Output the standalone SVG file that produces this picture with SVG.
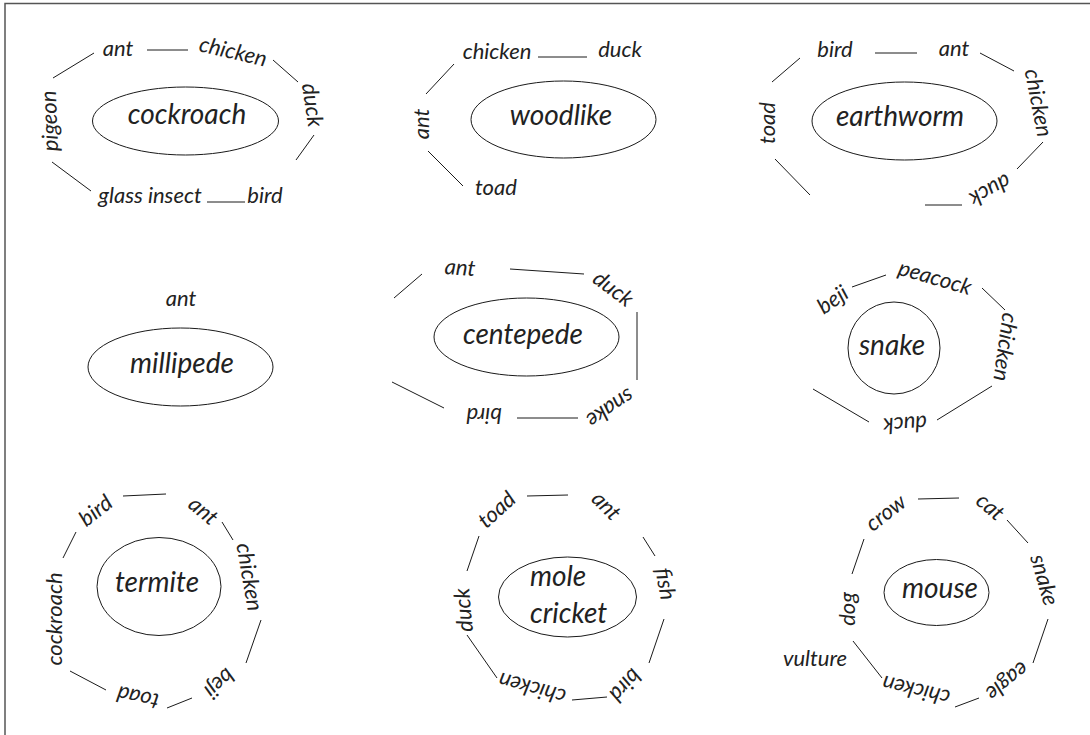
<svg xmlns="http://www.w3.org/2000/svg" width="1090" height="735" viewBox="0 0 1090 735">
<style>
text{font-family:"Lato","Open Sans","Liberation Sans",sans-serif;font-style:italic;font-weight:400;fill:#222;text-anchor:middle}
.l{font-size:22px}
.c{font-size:28px}
.e{fill:none;stroke:#1a1a1a;stroke-width:1}
#connectors line{stroke:#1a1a1a;stroke-width:1}
</style>
<rect width="1090" height="735" fill="#fff"/>
<path d="M5,735 V3.5 H1090" fill="none" stroke="#555" stroke-width="1.5"/>
<g id="connectors">
<line x1="147" y1="50" x2="188" y2="50"/>
<line x1="273" y1="60" x2="298" y2="82"/>
<line x1="314" y1="135" x2="296" y2="160"/>
<line x1="207" y1="202" x2="245" y2="202"/>
<line x1="52" y1="162" x2="91" y2="191"/>
<line x1="53" y1="78" x2="94" y2="53"/>
<line x1="538" y1="57" x2="587" y2="57"/>
<line x1="454" y1="64" x2="426" y2="94"/>
<line x1="428" y1="151" x2="463" y2="186"/>
<line x1="875" y1="53" x2="917" y2="53"/>
<line x1="980" y1="53" x2="1014" y2="71"/>
<line x1="1043" y1="142" x2="1017" y2="169"/>
<line x1="925" y1="205" x2="962" y2="205"/>
<line x1="775" y1="159" x2="810" y2="195"/>
<line x1="772" y1="82" x2="800" y2="58"/>
<line x1="510" y1="269" x2="584" y2="274"/>
<line x1="637" y1="312" x2="637" y2="380"/>
<line x1="517" y1="418" x2="578" y2="418"/>
<line x1="392" y1="382" x2="444" y2="408"/>
<line x1="394" y1="298" x2="422" y2="274"/>
<line x1="852" y1="287" x2="886" y2="275"/>
<line x1="982" y1="288" x2="1005" y2="310"/>
<line x1="992" y1="386" x2="937" y2="420"/>
<line x1="869" y1="422" x2="813" y2="389"/>
<line x1="123" y1="496" x2="166" y2="494"/>
<line x1="222" y1="522" x2="233" y2="540"/>
<line x1="261" y1="620" x2="246" y2="663"/>
<line x1="192" y1="698" x2="167" y2="708"/>
<line x1="106" y1="690" x2="70" y2="671"/>
<line x1="63" y1="558" x2="76" y2="532"/>
<line x1="527" y1="496" x2="568" y2="495"/>
<line x1="643" y1="537" x2="655" y2="556"/>
<line x1="664" y1="619" x2="649" y2="663"/>
<line x1="607" y1="697" x2="572" y2="700"/>
<line x1="497" y1="678" x2="467" y2="635"/>
<line x1="467" y1="571" x2="479" y2="536"/>
<line x1="918" y1="499" x2="959" y2="498"/>
<line x1="1007" y1="520" x2="1028" y2="543"/>
<line x1="1048" y1="619" x2="1033" y2="663"/>
<line x1="979" y1="698" x2="955" y2="707"/>
<line x1="882" y1="678" x2="853" y2="641"/>
<line x1="852" y1="574" x2="864" y2="539"/>
</g>

<g id="cockroach"><ellipse class="e" cx="185.5" cy="121" rx="93" ry="34"/><text class="c" x="187" y="124">cockroach</text></g>
<g id="p1-ant"><text class="l" x="118" y="56">ant</text></g>
<g id="p1-chicken"><text class="l" transform="translate(233,52) rotate(13)" y="7">chicken</text></g>
<g id="p1-duck"><text class="l" transform="translate(312,105) rotate(81)" y="7">duck</text></g>
<g id="p1-bird"><text class="l" x="265" y="203">bird</text></g>
<g id="p1-glass"><text class="l" x="150" y="203">glass insect</text></g>
<g id="p1-pigeon"><text class="l" transform="translate(50,121) rotate(-92)" y="7">pigeon</text></g>

<g id="woodlike"><ellipse class="e" cx="563.5" cy="119.5" rx="92.5" ry="38.5"/><text class="c" x="561" y="125">woodlike</text></g>
<g id="p2-chicken"><text class="l" x="497" y="59">chicken</text></g>
<g id="p2-duck"><text class="l" x="620" y="57">duck</text></g>
<g id="p2-ant"><text class="l" transform="translate(422,124) rotate(-90)" y="7">ant</text></g>
<g id="p2-toad"><text class="l" x="496" y="195">toad</text></g>

<g id="earthworm"><ellipse class="e" cx="904.5" cy="121" rx="92.5" ry="39"/><text class="c" x="900" y="126">earthworm</text></g>
<g id="p3-bird"><text class="l" x="835" y="57">bird</text></g>
<g id="p3-ant"><text class="l" x="954" y="56">ant</text></g>
<g id="p3-chicken"><text class="l" transform="translate(1038,103) rotate(79)" y="7">chicken</text></g>
<g id="p3-duck"><text class="l" transform="translate(990,190) rotate(151)" y="7">duck</text></g>
<g id="p3-toad"><text class="l" transform="translate(768,123) rotate(-90)" y="7">toad</text></g>

<g id="millipede"><ellipse class="e" cx="180.5" cy="367" rx="92.5" ry="39"/><text class="c" x="182" y="373">millipede</text></g>
<g id="p4-ant"><text class="l" x="181" y="306">ant</text></g>

<g id="centepede"><ellipse class="e" cx="526.5" cy="337" rx="92.5" ry="39"/><text class="c" x="523" y="344">centepede</text></g>
<g id="p5-ant"><text class="l" transform="translate(460,268) rotate(4)" y="7">ant</text></g>
<g id="p5-duck"><text class="l" transform="translate(613,289) rotate(37)" y="7">duck</text></g>
<g id="p5-snake"><text class="l" transform="translate(610,408) rotate(146)" y="7">snake</text></g>
<g id="p5-bird"><text class="l" transform="translate(484,415) rotate(180)" y="7">bird</text></g>

<g id="snake"><circle class="e" cx="894" cy="348" r="46"/><text class="c" x="892" y="355">snake</text></g>
<g id="p6-beji"><text class="l" transform="translate(833,300) rotate(-35)" y="7">beji</text></g>
<g id="p6-peacock"><text class="l" transform="translate(935,278) rotate(16)" y="7">peacock</text></g>
<g id="p6-chicken"><text class="l" transform="translate(1005,347) rotate(98)" y="7">chicken</text></g>
<g id="p6-duck"><text class="l" transform="translate(905,424) rotate(176)" y="7">duck</text></g>

<g id="termite"><ellipse class="e" cx="159" cy="586.5" rx="62" ry="49"/><text class="c" x="157" y="592">termite</text></g>
<g id="p7-bird"><text class="l" transform="translate(96,511) rotate(-38)" y="7">bird</text></g>
<g id="p7-ant"><text class="l" transform="translate(203,511) rotate(40)" y="7">ant</text></g>
<g id="p7-chicken"><text class="l" transform="translate(249,577) rotate(80)" y="7">chicken</text></g>
<g id="p7-beji"><text class="l" transform="translate(219,683) rotate(137)" y="7">beji</text></g>
<g id="p7-toad"><text class="l" transform="translate(138,697) rotate(192)" y="7">toad</text></g>
<g id="p7-cockroach"><text class="l" transform="translate(55,619) rotate(-90)" y="7">cockroach</text></g>

<g id="mole-cricket"><ellipse class="e" cx="567.5" cy="597" rx="69" ry="40"/><text class="c" x="530" y="586" style="text-anchor:start">mole</text><text class="c" x="530" y="623" style="text-anchor:start">cricket</text></g>
<g id="p8-toad"><text class="l" transform="translate(497,510) rotate(-42)" y="7">toad</text></g>
<g id="p8-ant"><text class="l" transform="translate(606,506) rotate(45)" y="7">ant</text></g>
<g id="p8-fish"><text class="l" transform="translate(665,584) rotate(80)" y="7">fish</text></g>
<g id="p8-bird"><text class="l" transform="translate(625,685) rotate(132)" y="7">bird</text></g>
<g id="p8-chicken"><text class="l" transform="translate(532,688) rotate(195)" y="7">chicken</text></g>
<g id="p8-duck"><text class="l" transform="translate(464,610) rotate(-95)" y="7">duck</text></g>

<g id="mouse"><ellipse class="e" cx="936.5" cy="592.5" rx="52.5" ry="33"/><text class="c" x="940" y="598">mouse</text></g>
<g id="p9-crow"><text class="l" transform="translate(886,513) rotate(-38)" y="7">crow</text></g>
<g id="p9-cat"><text class="l" transform="translate(990,507) rotate(40)" y="7">cat</text></g>
<g id="p9-snake"><text class="l" transform="translate(1044,580) rotate(74)" y="7">snake</text></g>
<g id="p9-eagle"><text class="l" transform="translate(1007,681) rotate(141)" y="7">eagle</text></g>
<g id="p9-chicken"><text class="l" transform="translate(916,690) rotate(193)" y="7">chicken</text></g>
<g id="p9-vulture"><text class="l" x="815" y="666">vulture</text></g>
<g id="p9-dog"><text class="l" transform="translate(848,609) rotate(-90)" y="7">dog</text></g>
</svg>
